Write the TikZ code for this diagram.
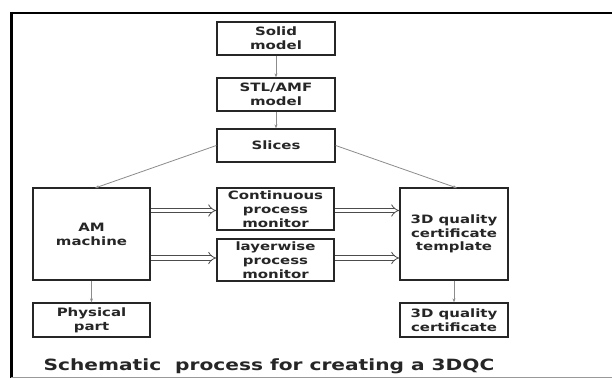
\documentclass[tikz,border=0pt]{standalone}
\usepackage{fontspec}
\setmainfont{DejaVu Sans}[FakeStretch=1.3]
\usetikzlibrary{arrows.meta}
\begin{document}
\begin{tikzpicture}[x=1pt,y=-1pt,
  box/.style={draw=black!85,line width=1.3pt,align=center,inner sep=0pt,
    font=\bfseries\fontsize{11.5}{13.8}\selectfont,text=black!85},
  thin/.style={draw=black!45,line width=0.8pt,-{Stealth[length=4pt,width=3pt]}},
  dbl/.style={double=white,draw=black!70,double distance=3.5pt,line width=0.8pt,-{Implies[length=5pt]}}]
\useasboundingbox (0,0) rectangle (612,379);
\fill[white] (0,0) rectangle (612,379);
\draw[line width=1.8pt] (11,13) -- (612,13);
\draw[line width=3pt] (11,12) -- (11,378);
\draw[black!40,line width=1pt] (11,377) -- (612,377);
\node[box,minimum width=118pt,minimum height=33pt] (solid) at (276,38.5) {Solid\\model};
\node[box,minimum width=118pt,minimum height=33pt] (stl) at (276,94.5) {STL/AMF\\model};
\node[box,minimum width=118pt,minimum height=33pt] (slices) at (276,145.5) {Slices};
\node[box,minimum width=117pt,minimum height=92pt] (am) at (91.5,234) {AM\\machine};
\node[box,minimum width=117pt,minimum height=42pt] (cont) at (275.5,209) {Continuous\\process\\monitor};
\node[box,minimum width=117pt,minimum height=42pt] (layer) at (275.5,260) {layerwise\\process\\monitor};
\node[box,minimum width=108pt,minimum height=92pt] (templ) at (454,234) {3D quality\\certificate\\template};
\node[box,minimum width=117pt,minimum height=34pt] (phys) at (91.5,320) {Physical\\part};
\node[box,minimum width=108pt,minimum height=34pt] (cert) at (454,320) {3D quality\\certificate};
\node[font=\bfseries\fontsize{15.5}{18}\selectfont,text=black!85] (cap) at (269,366) {Schematic\ \ process for creating a 3DQC};
\draw[thin] (solid) -- (stl);
\draw[thin] (stl) -- (slices);
\draw[thin] (slices.west) -- (95,188);
\draw[thin] (slices.east) -- (457,188);
\draw[thin] (am) -- (phys);
\draw[thin] (templ) -- (cert);
\draw[dbl] (am.east |- 0,210.5) -- (cont.west |- 0,210.5);
\draw[dbl] (am.east |- 0,258) -- (layer.west |- 0,258);
\draw[dbl] (cont.east |- 0,210.5) -- (templ.west |- 0,210.5);
\draw[dbl] (layer.east |- 0,258) -- (templ.west |- 0,258);
\end{tikzpicture}
\end{document}
